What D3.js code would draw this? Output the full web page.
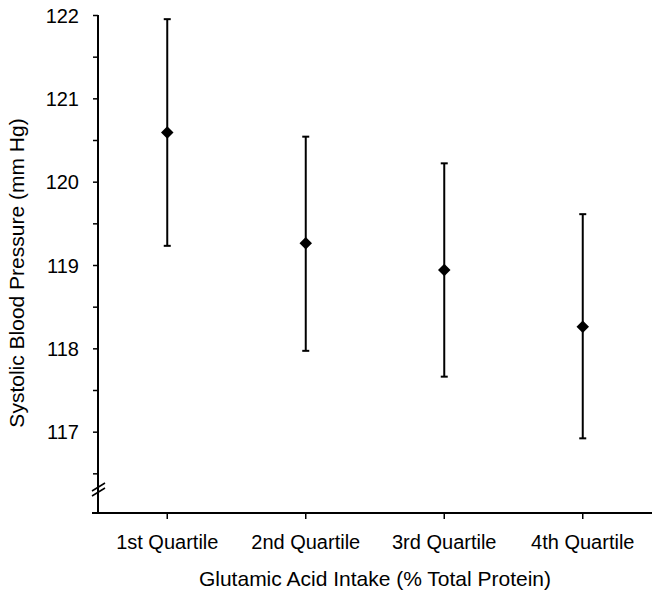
<!DOCTYPE html>
<html>
<head>
<meta charset="utf-8">
<script src="https://cdn.jsdelivr.net/npm/d3@7"></script>
<style>
  body { margin: 0; background: white; }
  text { font-family: "Liberation Sans", Arial, sans-serif; fill: black; }
</style>
</head>
<body>
<div id="chart"></div>
<script>
var categories = ["1st Quartile", "2nd Quartile", "3rd Quartile", "4th Quartile"];
var means = [120.59, 119.26, 118.94, 118.26];
var upper = [121.95, 120.54, 120.22, 119.61];
var lower = [119.23, 117.97, 117.66, 116.92];
var yTicks = [116.5, 117, 117.5, 118, 118.5, 119, 119.5, 120, 120.5, 121, 121.5, 122];

var width = 662, height = 600;
var plotLeft = 98, plotRight = 652, plotTop = 15, axisY = 513;

var svg = d3.select("#chart").append("svg")
    .attr("width", width)
    .attr("height", height);

var x = d3.scaleBand()
    .domain(categories)
    .range([plotLeft, plotRight])
    .padding(0);

var y = d3.scaleLinear()
    .domain([116, 122])
    .range([515, plotTop]);

// y axis
var yAxis = d3.axisLeft(y)
    .tickValues(yTicks)
    .tickSize(5)
    .tickPadding(14)
    .tickFormat(function(d) { return d % 1 === 0 ? d : ""; });

var gy = svg.append("g")
    .attr("transform", "translate(" + plotLeft + ",0)")
    .call(yAxis);
gy.select(".domain").remove();
gy.selectAll(".tick line").attr("stroke", "black").attr("stroke-width", 1.5);
gy.selectAll(".tick text").style("font-size", "20px").attr("dy", "0.36em");

svg.append("line")
    .attr("x1", plotLeft).attr("x2", plotLeft)
    .attr("y1", plotTop).attr("y2", axisY)
    .attr("stroke", "black").attr("stroke-width", 2);

// axis break marks
[0, 5].forEach(function(off) {
    svg.append("line")
        .attr("x1", plotLeft - 6).attr("y1", 491 + off)
        .attr("x2", plotLeft + 7).attr("y2", 483 + off)
        .attr("stroke", "black").attr("stroke-width", 1.5);
});

// x axis
var xAxis = d3.axisBottom(x)
    .tickSize(6)
    .tickSizeOuter(0)
    .tickPadding(16);

var gx = svg.append("g")
    .attr("transform", "translate(0," + axisY + ")")
    .call(xAxis);
gx.select(".domain").remove();
gx.selectAll(".tick line").attr("stroke", "black").attr("stroke-width", 1.5);
gx.selectAll(".tick text").style("font-size", "20px");

svg.append("line")
    .attr("x1", plotLeft - 6).attr("x2", plotRight)
    .attr("y1", axisY).attr("y2", axisY)
    .attr("stroke", "black").attr("stroke-width", 2);

// error bars
var cx = function(i) { return x(categories[i]) + x.bandwidth() / 2; };

categories.forEach(function(c, i) {
    var g = svg.append("g");
    g.append("line")
        .attr("x1", cx(i)).attr("x2", cx(i))
        .attr("y1", y(upper[i])).attr("y2", y(lower[i]))
        .attr("stroke", "black").attr("stroke-width", 2);
    [upper[i], lower[i]].forEach(function(v) {
        g.append("line")
            .attr("x1", cx(i) - 3.5).attr("x2", cx(i) + 3.5)
            .attr("y1", y(v)).attr("y2", y(v))
            .attr("stroke", "black").attr("stroke-width", 2);
    });
    g.append("path")
        .attr("d", d3.symbol().type(d3.symbolDiamond2).size(100)())
        .attr("transform", "translate(" + cx(i) + "," + y(means[i]) + ")")
        .attr("fill", "black");
});

// axis titles
svg.append("text")
    .attr("x", (plotLeft + plotRight) / 2)
    .attr("y", 586)
    .attr("text-anchor", "middle")
    .style("font-size", "21px")
    .text("Glutamic Acid Intake (% Total Protein)");

svg.append("text")
    .attr("transform", "translate(24,273) rotate(-90)")
    .attr("text-anchor", "middle")
    .style("font-size", "21px")
    .text("Systolic Blood Pressure (mm Hg)");
</script>
</body>
</html>
